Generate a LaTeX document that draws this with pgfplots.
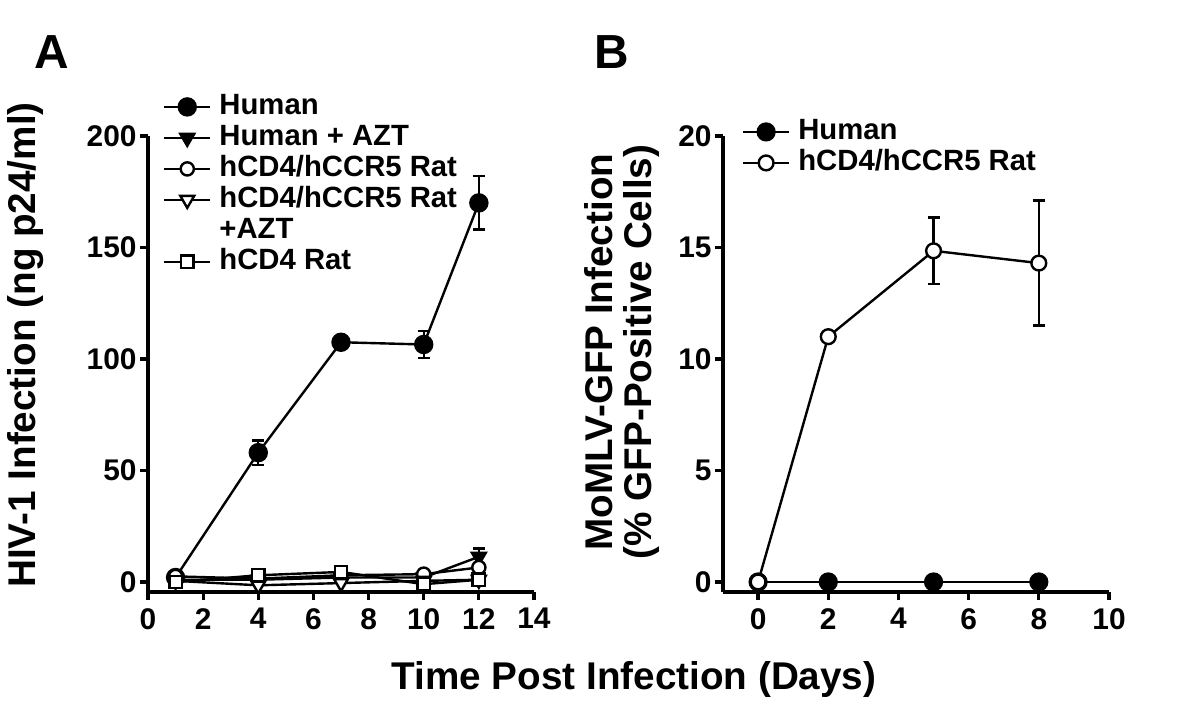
\documentclass[border=0pt]{standalone}
\usepackage{pgfplots}
\pgfplotsset{compat=1.18}
\usepackage{fontspec}
\setmainfont{Liberation Sans}

% panel A data: day, value, error
\pgfplotstableread{
x y e
1 2 1
4 58 5.5
7 107.5 1.5
10 106.5 6
12 170 12
}\humanA
\pgfplotstableread{
x y e
1 1 0
4 1 0
7 2 0
10 2 0
12 11.3 3.7
}\humanazt
\pgfplotstableread{
x y e
1 2.5 0
4 1.5 0
7 3 0
10 3.5 0
12 6.5 0
}\ratA
\pgfplotstableread{
x y e
1 0.5 0
4 -1.5 0
7 -0.5 0
10 0.5 0
12 1 0
}\ratazt
\pgfplotstableread{
x y e
1 0 0
4 3 0
7 4.5 0
10 -1 0
12 1 0
}\cdfour
% panel B data
\pgfplotstableread{
x y e
0 0 0
2 0 0
5 0 0
8 0 0
}\humanB
\pgfplotstableread{
x y e
0 0 0
2 11 0.2
5 14.85 1.5
8 14.3 2.8
}\ratB

\pgfplotsset{
  prism/.style={
    scale only axis, width=193bp, height=228bp,
    axis lines*=left,
    axis line style={line width=2bp},
    tick style={line width=1.6bp, black},
    tick align=outside, major tick length=4bp,
    tick label style={font=\fontsize{15}{15}\bfseries\selectfont},
    yticklabel style={inner xsep=1.5bp},
    xticklabel style={inner ysep=4bp},
    /pgf/number format/assume math mode=true,
    clip=false,
    every axis plot/.append style={line width=1.2bp, black,
      mark options={solid, line width=1.2bp}},
    legend style={draw=none, fill=none, inner sep=0pt, outer sep=0pt,
      font=\fontsize{14.7}{15}\bfseries\selectfont,
      nodes={text height=11bp, text depth=3bp, inner sep=0pt},
      row sep=1.5bp, column sep=4bp},
    legend cell align=left,
    legend image code/.code={
      \draw[mark repeat=2, mark phase=2, ##1]
        plot coordinates {(0bp,0bp) (11.5bp,0bp) (23bp,0bp)};},
  },
  ebar/.style={error bars/.cd, y dir=both, y explicit,
    error bar style={line width=1.2bp},
    error mark options={rotate=90, mark size=3bp, line width=1.2bp}},
}

\begin{document}
\begin{tikzpicture}
\useasboundingbox (0,0) rectangle (600bp,353bp);

\begin{axis}[prism, at={(74bp,57bp)}, anchor=south west,
  xmin=0, xmax=14, ymin=-4.5, ymax=200,
  xtick={0,2,...,14}, ytick={0,50,...,200},
  legend style={at={(0.039,1.0945)}, anchor=north west}]
\addplot[mark=*, mark size=4.25bp, ebar] table[x=x, y=y, y error=e] {\humanA};
\addlegendentry{Human}
\addplot[mark=triangle*, mark size=4bp, mark options={rotate=180, fill=black}, ebar]
  table[x=x, y=y, y error=e] {\humanazt};
\addlegendentry{Human + AZT}
\addplot[mark=*, mark size=3.3bp, mark options={fill=white}] table[x=x, y=y] {\ratA};
\addlegendentry{hCD4/hCCR5 Rat}
\addplot[mark=triangle*, mark size=4bp, mark options={rotate=180, fill=white}]
  table[x=x, y=y] {\ratazt};
\addlegendentry{hCD4/hCCR5 Rat}
\addlegendimage{empty legend}
\addlegendentry{+AZT}
\addplot[mark=square*, mark size=3.1bp, mark options={fill=white}] table[x=x, y=y] {\cdfour};
\addlegendentry{hCD4 Rat}
\end{axis}

\begin{axis}[prism, at={(361.5bp,57bp)}, anchor=south west,
  xmin=-1, xmax=10, ymin=-0.45, ymax=20,
  xtick={0,2,...,10}, ytick={0,5,...,20},
  legend style={at={(0.049,1.0396)}, anchor=north west}]
\addplot[mark=*, mark size=4.2bp] table[x=x, y=y] {\humanB};
\addlegendentry{Human}
\addplot[mark=*, mark size=3.7bp, mark options={fill=white}, ebar]
  table[x=x, y=y, y error=e] {\ratB};
\addlegendentry{hCD4/hCCR5 Rat}
\end{axis}

\node[font=\fontsize{24}{24}\bfseries\selectfont] at (26bp,327bp) {A};
\node[font=\fontsize{24}{24}\bfseries\selectfont] at (306bp,327bp) {B};
\node[font=\fontsize{19.4}{20}\bfseries\selectfont] at (317bp,13bp)
  {Time Post Infection (Days)};
\node[font=\fontsize{19.4}{20}\bfseries\selectfont, rotate=90] at (13bp,180.5bp)
  {HIV-1 Infection (ng p24/ml)};
\node[font=\fontsize{19.4}{20}\bfseries\selectfont, rotate=90, align=center]
  at (311bp,177bp)
  {MoMLV-GFP Infection\\(\% GFP-Positive Cells)};
\end{tikzpicture}
\end{document}
